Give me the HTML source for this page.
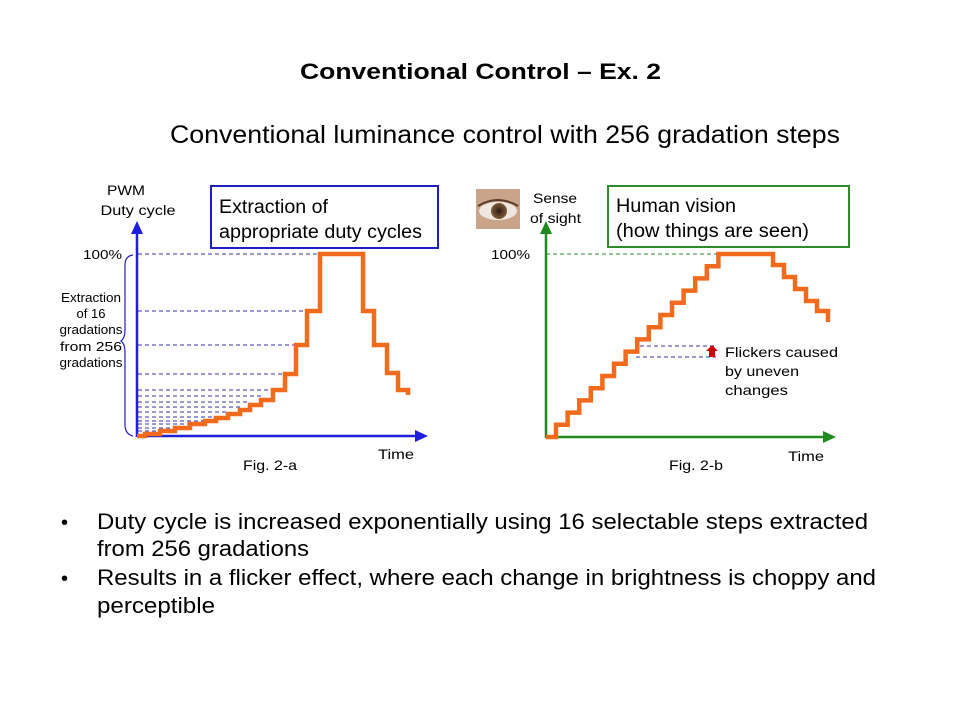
<!DOCTYPE html>
<html><head><meta charset="utf-8"><style>
html,body{margin:0;padding:0;background:#fff}
svg{display:block;font-family:"Liberation Sans",Arial,sans-serif}
</style></head><body>
<svg width="960" height="720" viewBox="0 0 960 720" xmlns="http://www.w3.org/2000/svg">
<rect width="960" height="720" fill="#fff"/>
<text x="300" y="79" font-size="22" font-weight="bold" textLength="361" lengthAdjust="spacingAndGlyphs">Conventional Control – Ex. 2</text>
<text x="170" y="143" font-size="25" textLength="670" lengthAdjust="spacingAndGlyphs">Conventional luminance control with 256 gradation steps</text>

<!-- Left chart -->
<text x="126" y="195" font-size="14" text-anchor="middle" textLength="38" lengthAdjust="spacingAndGlyphs">PWM</text>
<text x="138" y="215" font-size="14" text-anchor="middle" textLength="75" lengthAdjust="spacingAndGlyphs">Duty cycle</text>
<rect x="211" y="186" width="227" height="62" fill="none" stroke="#1f1fbf" stroke-width="2"/>
<text x="219" y="213" font-size="19" textLength="109" lengthAdjust="spacingAndGlyphs">Extraction of</text>
<text x="219" y="238" font-size="19" textLength="203" lengthAdjust="spacingAndGlyphs">appropriate duty cycles</text>
<text x="83" y="259" font-size="13" textLength="39" lengthAdjust="spacingAndGlyphs">100%</text>
<text x="91" y="302" font-size="13" text-anchor="middle" textLength="60" lengthAdjust="spacingAndGlyphs">Extraction</text>
<text x="91" y="318" font-size="13" text-anchor="middle">of 16</text>
<text x="91" y="334" font-size="13" text-anchor="middle" textLength="63" lengthAdjust="spacingAndGlyphs">gradations</text>
<text x="91" y="351" font-size="13" text-anchor="middle" textLength="62" lengthAdjust="spacingAndGlyphs">from 256</text>
<text x="91" y="367" font-size="13" text-anchor="middle" textLength="63" lengthAdjust="spacingAndGlyphs">gradations</text>
<path d="M133 255 Q125 256 125 265 L125 330 Q125 338 121 341 Q125 344 125 352 L125 425 Q125 434 133 436" fill="none" stroke="#1f1fbf" stroke-width="1.2"/>
<g stroke="#3333aa" stroke-width="1" stroke-dasharray="4,3">
<line x1="138" y1="254" x2="322" y2="254"/>
<line x1="138" y1="311" x2="307" y2="311"/>
<line x1="138" y1="345" x2="296" y2="345"/>
<line x1="138" y1="374" x2="285" y2="374"/>
<line x1="138" y1="390" x2="273" y2="390"/>
<line x1="138" y1="396" x2="261" y2="396"/>
<line x1="138" y1="402" x2="250" y2="402"/>
<line x1="138" y1="407" x2="240" y2="407"/>
<line x1="138" y1="412" x2="228" y2="412"/>
<line x1="138" y1="417" x2="216" y2="417"/>
<line x1="138" y1="421" x2="205" y2="421"/>
<line x1="138" y1="424" x2="190" y2="424"/>
<line x1="138" y1="428" x2="175" y2="428"/>
<line x1="138" y1="431" x2="160" y2="431"/>
</g>
<line x1="137" y1="437" x2="137" y2="232" stroke="#1f1fdd" stroke-width="2.5"/>
<polygon points="137,221 131,234 143,234" fill="#1f1fdd"/>
<line x1="137" y1="436" x2="418" y2="436" stroke="#1f1fdd" stroke-width="2.5"/>
<polygon points="428,436 415,430 415,442" fill="#1f1fdd"/>
<path d="M137 436 H145 V434 H160 V431 H175 V428 H190 V424 H205 V421 H216 V418 H228 V414 H240 V410 H250 V405 H261 V400 H273 V390 H285 V374 H296 V345 H307 V311 H320 V254 H363 V311 H374 V345 H387 V373 H398 V390 H408 V395" fill="none" stroke="#f26b1d" stroke-width="4.5" stroke-linejoin="miter"/>
<text x="378" y="459" font-size="14" textLength="36" lengthAdjust="spacingAndGlyphs">Time</text>
<text x="243" y="470" font-size="14" textLength="54" lengthAdjust="spacingAndGlyphs">Fig. 2-a</text>

<!-- Right chart -->
<defs><radialGradient id="iris" cx="50%" cy="50%" r="50%"><stop offset="0" stop-color="#2a1a10"/><stop offset="0.5" stop-color="#5a3d24"/><stop offset="1" stop-color="#7a5a3a"/></radialGradient></defs>
<rect x="476" y="189" width="44" height="40" fill="#c9a38a"/>
<ellipse cx="498" cy="211" rx="19" ry="9" fill="#efe6e0"/>
<circle cx="499" cy="211" r="8" fill="url(#iris)"/>
<path d="M478 206 Q498 194 518 206" stroke="#5a3a2a" stroke-width="2" fill="none"/>
<text x="533" y="203" font-size="14" textLength="44" lengthAdjust="spacingAndGlyphs">Sense</text>
<text x="530" y="223" font-size="14" textLength="51" lengthAdjust="spacingAndGlyphs">of sight</text>
<rect x="608" y="186" width="241" height="61" fill="none" stroke="#2e8b2e" stroke-width="2"/>
<text x="616" y="212" font-size="19" textLength="120" lengthAdjust="spacingAndGlyphs">Human vision</text>
<text x="616" y="237" font-size="19" textLength="193" lengthAdjust="spacingAndGlyphs">(how things are seen)</text>
<text x="491" y="259" font-size="13" textLength="39" lengthAdjust="spacingAndGlyphs">100%</text>
<line x1="546" y1="254" x2="730" y2="254" stroke="#2e8b2e" stroke-width="1" stroke-dasharray="4,3"/>
<g stroke="#3333aa" stroke-width="1" stroke-dasharray="4,3">
<line x1="640" y1="346" x2="716" y2="346"/>
<line x1="636" y1="357" x2="716" y2="357"/>
</g>
<polygon points="712,345 706,351 709,351 709,357 715,357 715,351 718,351" fill="#cc0000"/>
<text x="725" y="357" font-size="14" textLength="113" lengthAdjust="spacingAndGlyphs">Flickers caused</text>
<text x="725" y="376" font-size="14" textLength="74" lengthAdjust="spacingAndGlyphs">by uneven</text>
<text x="725" y="395" font-size="14" textLength="63" lengthAdjust="spacingAndGlyphs">changes</text>
<line x1="546" y1="438" x2="546" y2="232" stroke="#1f8a1f" stroke-width="2.5"/>
<polygon points="546,221 540,234 552,234" fill="#1f8a1f"/>
<line x1="546" y1="437" x2="826" y2="437" stroke="#1f8a1f" stroke-width="2.5"/>
<polygon points="836,437 823,431 823,443" fill="#1f8a1f"/>
<path d="M546 437 H556 V424.8 H567.6 V412.6 H579.2 V400.4 H590.8 V388.2 H602.4 V376 H614 V363.8 H625.6 V351.6 H637.2 V339.4 H648.8 V327.2 H660.4 V315 H672 V302.8 H683.6 V290.6 H695.2 V278.4 H706.8 V266.2 H718.4 V254 H773 V265 H784 V277 H795 V289 H806 V301 H817 V311 H828 V322" fill="none" stroke="#f26b1d" stroke-width="4.5"/>
<text x="788" y="461" font-size="14" textLength="36" lengthAdjust="spacingAndGlyphs">Time</text>
<text x="669" y="470" font-size="14" textLength="54" lengthAdjust="spacingAndGlyphs">Fig. 2-b</text>

<!-- Bullets -->
<text x="61" y="529" font-size="20">•</text>
<text x="97" y="529" font-size="22" textLength="771" lengthAdjust="spacingAndGlyphs">Duty cycle is increased exponentially using 16 selectable steps extracted</text>
<text x="97" y="556" font-size="22" textLength="212" lengthAdjust="spacingAndGlyphs">from 256 gradations</text>
<text x="61" y="585" font-size="20">•</text>
<text x="97" y="585" font-size="22" textLength="779" lengthAdjust="spacingAndGlyphs">Results in a flicker effect, where each change in brightness is choppy and</text>
<text x="97" y="613" font-size="22" textLength="118" lengthAdjust="spacingAndGlyphs">perceptible</text>
</svg>
</body></html>
